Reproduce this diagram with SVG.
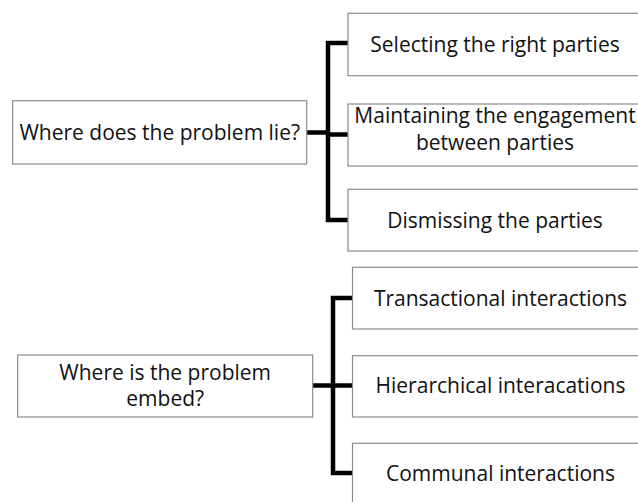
<svg xmlns="http://www.w3.org/2000/svg" width="638" height="502" viewBox="0 0 638 502">
  <style>
    .box { fill: #ffffff; stroke: #8c8c8c; stroke-width: 1.2; }
    .lbl { font-family: "Open Sans", "Liberation Sans", sans-serif; font-size: 21px; fill: #111111; text-anchor: middle; }
    .bracket { fill: none; stroke: #000000; stroke-width: 4.5; stroke-linecap: butt; stroke-linejoin: miter; }
  </style>
  <rect width="638" height="502" fill="#ffffff"/>

  <!-- connectors: thick brackets fanning out to the options -->
  <g id="connectors">
    <path class="bracket" d="M307 132.5 H328"/>
    <path class="bracket" d="M348 43 H328 V220 H348 M328 134.5 H348"/>
    <path class="bracket" d="M313 385.5 H333"/>
    <path class="bracket" d="M352.5 298 H333 V473 H352.5 M333 385.5 H352.5"/>
  </g>

  <!-- first question and its options -->
  <g id="q-lie">
    <rect class="box" x="12.7" y="100.7" width="294" height="63.3"/>
    <text class="lbl" x="159.7" y="139.5">Where does the problem lie?</text>
  </g>
  <g id="opt-selecting">
    <rect class="box" x="348" y="13.3" width="294" height="62.4"/>
    <text class="lbl" x="495" y="51.5">Selecting the right parties</text>
  </g>
  <g id="opt-maintaining">
    <rect class="box" x="348" y="104" width="294" height="62"/>
    <text class="lbl" x="495" y="123">Maintaining the engagement</text>
    <text class="lbl" x="495" y="149.5">between parties</text>
  </g>
  <g id="opt-dismissing">
    <rect class="box" x="348" y="189.3" width="294" height="61.7"/>
    <text class="lbl" x="495" y="227.5">Dismissing the parties</text>
  </g>

  <!-- second question and its options -->
  <g id="q-embed">
    <rect class="box" x="17.7" y="355" width="295" height="62"/>
    <text class="lbl" x="165.2" y="380">Where is the problem</text>
    <text class="lbl" x="165.2" y="405.5">embed?</text>
  </g>
  <g id="opt-transactional">
    <rect class="box" x="352.5" y="267.3" width="296" height="61.7"/>
    <text class="lbl" x="500.5" y="305.5">Transactional interactions</text>
  </g>
  <g id="opt-hierarchical">
    <rect class="box" x="352.5" y="355.7" width="296" height="61.3"/>
    <text class="lbl" x="500.5" y="393">Hierarchical interacations</text>
  </g>
  <g id="opt-communal">
    <rect class="box" x="352.5" y="443.3" width="296" height="62"/>
    <text class="lbl" x="500.5" y="481">Communal interactions</text>
  </g>
</svg>
